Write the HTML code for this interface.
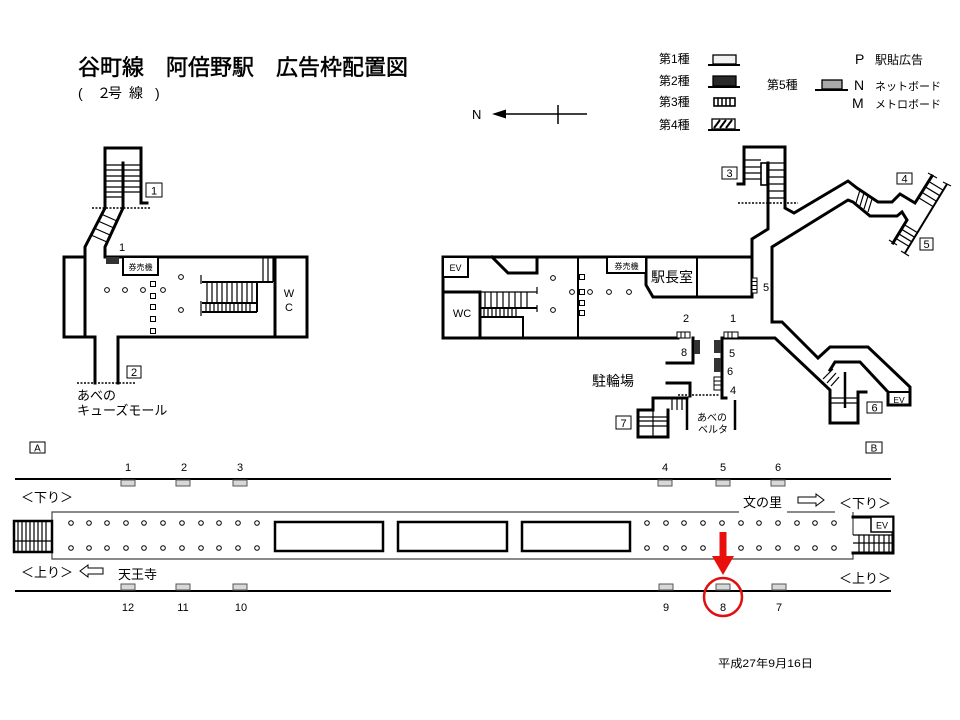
<!DOCTYPE html>
<html><head><meta charset="utf-8">
<style>
html,body{margin:0;padding:0;background:#fff;}
svg{display:block;}
text{font-family:"Liberation Sans","Noto Sans CJK JP",sans-serif;fill:#000;}
.w{fill:none;stroke:#000;stroke-width:3;stroke-linejoin:miter;stroke-linecap:square;}
.t{fill:none;stroke:#000;stroke-width:1.2;}
.m{fill:none;stroke:#000;stroke-width:2;}
.c{fill:#fff;stroke:#000;stroke-width:1;}
.d{fill:none;stroke:#000;stroke-width:1.6;stroke-dasharray:2,1.5;}
.g{fill:#d8d8d8;stroke:#555;stroke-width:1;}
</style></head><body>
<svg width="960" height="720" viewBox="0 0 960 720" xmlns="http://www.w3.org/2000/svg">
<rect width="960" height="720" fill="#fff"/>

<!-- Title -->
<text x="78" y="75" font-size="22" stroke="#000" stroke-width="0.5">谷町線　阿倍野駅　広告枠配置図</text>
<text x="78" y="98" font-size="14">(</text>
<text x="97" y="98" font-size="14">２</text>
<text x="108" y="98" font-size="14">号</text>
<text x="129" y="98" font-size="14">線</text>
<text x="155" y="98" font-size="14">)</text>

<!-- Legend -->
<text x="659" y="63" font-size="12">第1種</text>
<text x="659" y="85" font-size="12">第2種</text>
<text x="659" y="106" font-size="12">第3種</text>
<text x="659" y="129" font-size="12">第4種</text>
<rect x="713" y="55" width="23" height="9" fill="#f2f2f2" stroke="#000" stroke-width="1.3"/>
<line x1="708" y1="65" x2="740" y2="65" stroke="#000" stroke-width="2"/>
<rect x="713" y="76" width="23" height="10" fill="#2a2a2a" stroke="#000" stroke-width="1.3"/>
<line x1="708" y1="87" x2="740" y2="87" stroke="#000" stroke-width="2"/>
<rect x="714" y="98" width="21" height="8" fill="#fff" stroke="#000" stroke-width="1.6"/>
<path d="M718,98V106M722,98V106M726,98V106M730,98V106" stroke="#000" stroke-width="1.5"/>
<rect x="712" y="119" width="23" height="10" fill="#fff" stroke="#000" stroke-width="1.3"/>
<path d="M714,128L720,120M720,128L726,120M726,128L732,120" stroke="#000" stroke-width="2"/>
<line x1="708" y1="130" x2="740" y2="130" stroke="#000" stroke-width="2"/>
<text x="767" y="89" font-size="12">第5種</text>
<rect x="822" y="80" width="20" height="9" fill="#aaa" stroke="#000" stroke-width="1.3"/>
<line x1="815" y1="90" x2="848" y2="90" stroke="#000" stroke-width="2"/>
<text x="855" y="64" font-size="14">P</text>
<text x="875" y="64" font-size="12">駅貼広告</text>
<text x="854" y="90" font-size="14">N</text>
<text x="875" y="90" font-size="11">ネットボード</text>
<text x="852" y="108" font-size="14">M</text>
<text x="875" y="108" font-size="11">メトロボード</text>

<!-- North arrow -->
<text x="472" y="119" font-size="13">N</text>
<line x1="500" y1="114" x2="587" y2="114" stroke="#000" stroke-width="1.5"/>
<polygon points="492,114 506,109.5 506,118.5" fill="#000"/>
<line x1="558" y1="105" x2="558" y2="124" stroke="#000" stroke-width="1.5"/>

<!-- ===== Left concourse ===== -->
<path class="w" d="M147,203 L141,203 L141,148 L105,148 L105,208 L85,247 L85,257 L64,257 L64,337 L95,337 L95,383"/>
<path class="w" d="M123,163 L123,208 L105,247 L105,257 L307,257 L307,337 L118,337 L118,383"/>
<line x1="85" y1="257" x2="85" y2="337" stroke="#000" stroke-width="3"/>
<path class="t" d="M105,165H141M105,170H141M105,176H141M105,181H141M105,187H141M105,192H141M105,197H123"/>
<path class="t" d="M101,214L117,221M98,221L114,228M94,228L110,235M91,235L107,242"/>
<line class="d" x1="92" y1="208" x2="150" y2="208"/>
<rect x="146" y="183" width="16" height="14" fill="#fff" stroke="#000" stroke-width="1"/>
<text x="154" y="194.5" font-size="11" text-anchor="middle">1</text>
<text x="122" y="251" font-size="11" text-anchor="middle" fill="#333">1</text>
<rect x="106" y="257" width="13" height="7" fill="#333"/>
<rect x="123" y="257" width="35" height="18" fill="#fff" stroke="#000" stroke-width="2"/>
<text x="140.5" y="270" font-size="8" text-anchor="middle">券売機</text>
<!-- circles -->
<g class="c">
<circle cx="107" cy="290" r="2.4"/><circle cx="125" cy="290" r="2.4"/><circle cx="143" cy="290" r="2.4"/><circle cx="163" cy="290" r="2.4"/>
<circle cx="181" cy="277" r="2.4"/><circle cx="181" cy="310" r="2.4"/>
</g>
<g fill="#fff" stroke="#000" stroke-width="1">
<rect x="150.5" y="281.5" width="5" height="5"/><rect x="150.5" y="293.5" width="5" height="5"/><rect x="150.5" y="304.5" width="5" height="5"/><rect x="150.5" y="316.5" width="5" height="5"/><rect x="150.5" y="328.5" width="5" height="5"/>
</g>
<!-- stairs in left concourse -->
<line x1="275" y1="257" x2="275" y2="337" stroke="#000" stroke-width="3"/>
<text x="289" y="297" font-size="11" text-anchor="middle">W</text>
<text x="289" y="311" font-size="11" text-anchor="middle">C</text>
<path class="t" d="M263,257V282M268,257V282M273,257V282"/>
<path class="m" d="M202,282H273M257,282V312M202,312H257M202,303H257"/>
<path class="t" d="M201,275V284M201,301V316"/>
<path class="t" d="M207,282V303M212,282V303M217,282V303M222,282V303M227,282V303M232,282V303M237,282V303M242,282V303M247,282V303M252,282V303"/>
<path class="t" d="M206,303V312M210,303V312M214,303V312M218,303V312M222,303V312M226,303V312M230,303V312M234,303V312M238,303V312M242,303V312M246,303V312M250,303V312"/>
<line class="d" x1="77" y1="383" x2="135" y2="383"/>
<rect x="127" y="366" width="14" height="12" fill="#fff" stroke="#000" stroke-width="1"/>
<text x="134" y="376" font-size="11" text-anchor="middle">2</text>
<text x="77" y="400" font-size="13">あべの</text>
<text x="77" y="415" font-size="13">キューズモール</text>

<!-- ===== Right concourse ===== -->
<path class="w" d="M752,257 L443,257 L443,338 L678,338"/>
<path class="w" d="M738,184 L744,184 L744,147 L785,147 L785,208 L794,213 L848,181 L857,188 L878,202 L892,202 L900,194 L915,203 L932,176"/>
<path class="w" d="M768,163 L768,229 L752,239 L752,297 L653,297 L646,285 L646,257"/>
<rect x="761" y="163" width="6" height="22" fill="#fff" stroke="#000" stroke-width="1.6"/>
<path class="t" d="M744,160H761M744,167H761M744,173H761M744,179H761M768,163H785M768,170H785M768,177H785M768,184H785M768,191H785M768,198H785"/>
<line class="d" x1="738" y1="203" x2="798" y2="203"/>
<rect x="722" y="167" width="15" height="12" fill="#fff" stroke="#000" stroke-width="1"/>
<text x="729.5" y="177" font-size="11" text-anchor="middle">3</text>
<line x1="697" y1="257" x2="697" y2="297" stroke="#000" stroke-width="2"/>
<text x="672" y="282" font-size="14" text-anchor="middle">駅長室</text>
<rect x="752" y="278" width="5" height="15" fill="#fff" stroke="#000" stroke-width="1"/>
<path d="M752,281.5H757M752,285.5H757M752,289.5H757" stroke="#000" stroke-width="1"/>
<text x="763" y="291" font-size="11" fill="#333">5</text>

<!-- passage to exits 4/5 -->
<path class="w" d="M772,322 L772,247 L848,200 L853,202 L870,216 L897,216 L902,212 L907,220 L893,243"/>
<path class="t" d="M860,190L856,203M864,193L860,206M868,196L864,209M872,199L868,212"/>
<line x1="905" y1="253" x2="947" y2="184" stroke="#000" stroke-width="2"/>
<path class="t" d="M928,173L937,178M943,182L951,186M889,240L897,245M901,251L909,256"/>
<path class="t" d="M918.4,197.6L933.2,206.6M921.8,192.2L936.5,201.2M925.2,186.8L939.9,195.7M928.6,181.4L943.2,190.3"/>
<path class="t" d="M904.2,224.6L917.4,232.6M901.4,229.2L914.6,237.2M898.6,233.8L911.8,241.8M895.8,238.4L909,246.4"/>
<rect x="897" y="173" width="15" height="11" fill="#fff" stroke="#000" stroke-width="1"/>
<text x="904.5" y="182.5" font-size="11" text-anchor="middle">4</text>
<rect x="920" y="238" width="13" height="12" fill="#fff" stroke="#000" stroke-width="1"/>
<text x="926.5" y="248" font-size="11" text-anchor="middle">5</text>

<!-- passage to exit 6 -->
<path class="w" d="M772,322 L782,322 L818,358 L830,347 L868,347 L910,387 L910,405 L888,405 L888,392 L860,362 L835,362 L830,370"/>
<path class="w" d="M722,338 L775,338 L830,390 L830,423 L858,423 L858,392 L866,392"/>
<line x1="888" y1="392" x2="910" y2="392" stroke="#000" stroke-width="2"/>
<text x="899" y="403" font-size="8.5" text-anchor="middle">EV</text>
<line x1="845" y1="372" x2="845" y2="408" stroke="#000" stroke-width="2.5"/>
<path class="t" d="M830,398H858M830,403H858M823,379L833,369M827,383L836,373M831,386L839,377"/>
<rect x="867" y="402" width="15" height="11" fill="#fff" stroke="#000" stroke-width="1"/>
<text x="874.5" y="411.5" font-size="11" text-anchor="middle">6</text>

<!-- right concourse interior -->
<rect x="443" y="257" width="25" height="20" fill="#fff" stroke="#000" stroke-width="2"/>
<text x="455.5" y="271" font-size="9" text-anchor="middle">EV</text>
<path class="w" d="M443,292 H480 V338"/>
<text x="462" y="317" font-size="11" text-anchor="middle">WC</text>
<path class="m" d="M480,308H537M480,317H523V338"/>
<path class="t" d="M480,292H537M537,287V294M537,305V312"/>
<path class="t" d="M485,292V308M491,292V308M497,292V308M503,292V308M509,292V308M515,292V308M521,292V308M527,292V308"/>
<path class="t" d="M484,308V317M488,308V317M492,308V317M496,308V317M500,308V317M504,308V317M508,308V317M512,308V317M516,308V317"/>
<path class="w" d="M492,257 L508,273 L537,273 L537,257"/>
<line x1="578" y1="257" x2="578" y2="338" stroke="#000" stroke-width="2"/>
<rect x="607" y="257" width="39" height="16" fill="#fff" stroke="#000" stroke-width="2"/>
<text x="626.5" y="269" font-size="8" text-anchor="middle">券売機</text>
<g class="c">
<circle cx="553" cy="278" r="2.4"/><circle cx="553" cy="310" r="2.4"/>
<circle cx="572" cy="292" r="2.4"/><circle cx="590" cy="292" r="2.4"/><circle cx="609" cy="292" r="2.4"/><circle cx="629" cy="292" r="2.4"/>
</g>
<g fill="#fff" stroke="#000" stroke-width="1">
<rect x="579.5" y="274.5" width="5" height="5"/><rect x="579.5" y="289.5" width="5" height="5"/><rect x="579.5" y="300.5" width="5" height="5"/><rect x="579.5" y="310.5" width="5" height="5"/>
</g>

<!-- 駐輪場 area -->
<text x="686" y="322" font-size="11" text-anchor="middle">2</text>
<text x="733" y="322" font-size="11" text-anchor="middle">1</text>
<rect x="677" y="332" width="13" height="6" fill="#fff" stroke="#000" stroke-width="1"/>
<path d="M681,332V338M685,332V338" stroke="#000" stroke-width="1"/>
<rect x="724" y="332" width="14" height="6" fill="#fff" stroke="#000" stroke-width="1"/>
<path d="M728,332V338M732,332V338" stroke="#000" stroke-width="1"/>
<path class="w" d="M693,338 L693,363 L667,363"/>
<rect x="694" y="340" width="6" height="14" fill="#333"/>
<text x="684" y="356" font-size="11" text-anchor="middle" fill="#555">8</text>
<path class="w" d="M722,338 L722,398 L726,398"/>
<rect x="714" y="340" width="7" height="13" fill="#333"/>
<rect x="714" y="358" width="7" height="14" fill="#333"/>
<rect x="714" y="377" width="7" height="13" fill="#fff" stroke="#000" stroke-width="1"/>
<path d="M714,381H721M714,385H721" stroke="#000" stroke-width="1"/>
<text x="732" y="357" font-size="11" text-anchor="middle" fill="#555">5</text>
<text x="730" y="375" font-size="11" text-anchor="middle" fill="#555">6</text>
<text x="733" y="394" font-size="11" text-anchor="middle" fill="#555">4</text>
<line class="d" x1="678" y1="395" x2="720" y2="395"/>
<line x1="735" y1="400" x2="735" y2="430" stroke="#000" stroke-width="2.5"/>
<text x="592" y="386" font-size="14">駐輪場</text>
<path class="w" d="M667,383 L690,383 L690,396"/>
<path class="w" d="M687,398 L653,398 L653,410 L638,410"/>
<path class="w" d="M638,410 L638,437 L668,437 L668,410"/>
<line x1="687" y1="398" x2="687" y2="430" stroke="#000" stroke-width="2.5"/>
<path class="t" d="M638,417H668M638,421H668M638,426H668M653,410V437M672,398V410M677,398V410M682,398V410"/>
<rect x="616" y="416" width="15" height="13" fill="#fff" stroke="#000" stroke-width="1"/>
<text x="623.5" y="427" font-size="11" text-anchor="middle">7</text>
<text x="697" y="421" font-size="10">あべの</text>
<text x="698" y="433" font-size="10">ベルタ</text>

<!-- ===== Platform ===== -->
<rect x="30" y="442" width="15" height="11" fill="#fff" stroke="#000" stroke-width="1"/>
<text x="37.5" y="451.5" font-size="10" text-anchor="middle">A</text>
<rect x="866" y="442" width="16" height="11" fill="#fff" stroke="#000" stroke-width="1"/>
<text x="874" y="451.5" font-size="10" text-anchor="middle">B</text>

<line x1="15" y1="479" x2="891" y2="479" stroke="#000" stroke-width="2"/>
<line x1="15" y1="591" x2="891" y2="591" stroke="#000" stroke-width="2"/>
<g class="g">
<rect x="121" y="480" width="14" height="6"/><rect x="176" y="480" width="14" height="6"/><rect x="233" y="480" width="14" height="6"/>
<rect x="658" y="480" width="14" height="6"/><rect x="716" y="480" width="14" height="6"/><rect x="771" y="480" width="14" height="6"/>
<rect x="121" y="584" width="14" height="6"/><rect x="176" y="584" width="14" height="6"/><rect x="233" y="584" width="14" height="6"/>
<rect x="659" y="584" width="14" height="6"/><rect x="716" y="584" width="14" height="6"/><rect x="772" y="584" width="14" height="6"/>
</g>
<g font-size="11" text-anchor="middle">
<text x="128" y="471">1</text><text x="184" y="471">2</text><text x="240" y="471">3</text>
<text x="665" y="471">4</text><text x="723" y="471">5</text><text x="778" y="471">6</text>
<text x="128" y="611">12</text><text x="183" y="611">11</text><text x="241" y="611">10</text>
<text x="666" y="611">9</text><text x="723" y="611">8</text><text x="779" y="611">7</text>
</g>
<text x="21" y="502" font-size="13">＜下り＞</text>
<text x="21" y="577" font-size="13">＜上り＞</text>
<text x="839" y="508" font-size="13">＜下り＞</text>
<text x="839" y="583" font-size="13">＜上り＞</text>
<text x="118" y="579" font-size="13">天王寺</text>
<text x="743" y="507" font-size="13">文の里</text>
<polygon points="80,571 88,565 88,568 103,568 103,574 88,574 88,577" fill="#fff" stroke="#000" stroke-width="1"/>
<polygon points="824,500 816,494 816,497 798,497 798,503 816,503 816,506" fill="#fff" stroke="#000" stroke-width="1"/>

<!-- platform edges -->
<path d="M52,521 V512 H739 M787,512 H835 M853,512 V535 M52,552 V559 H853 V553" fill="none" stroke="#444" stroke-width="1.2"/>
<!-- left stairs -->
<rect x="14" y="521" width="38" height="31" fill="#fff" stroke="#000" stroke-width="2.5"/>
<path class="t" d="M18,521V552M22,521V552M26,521V552M30,521V552M34,521V552M38,521V552M42,521V552M46,521V552M14,541H52"/>
<!-- right stairs -->
<path class="w" d="M853,517 H893 V553 H853"/>
<rect x="871" y="517" width="22" height="15" fill="#fff" stroke="#000" stroke-width="1.5"/>
<text x="882" y="528.5" font-size="9" text-anchor="middle">EV</text>
<path class="t" d="M853,535H893M853,543H893M859,535V553M864,535V553M869,535V553M874,535V553M879,535V553M884,535V553M889,535V553"/>

<!-- pillars -->
<g class="c">
<circle cx="71" cy="523" r="2.3"/><circle cx="89" cy="523" r="2.3"/><circle cx="107" cy="523" r="2.3"/><circle cx="126" cy="523" r="2.3"/><circle cx="144" cy="523" r="2.3"/><circle cx="163" cy="523" r="2.3"/><circle cx="182" cy="523" r="2.3"/><circle cx="201" cy="523" r="2.3"/><circle cx="219" cy="523" r="2.3"/><circle cx="238" cy="523" r="2.3"/><circle cx="257" cy="523" r="2.3"/>
<circle cx="71" cy="548" r="2.3"/><circle cx="89" cy="548" r="2.3"/><circle cx="107" cy="548" r="2.3"/><circle cx="126" cy="548" r="2.3"/><circle cx="144" cy="548" r="2.3"/><circle cx="163" cy="548" r="2.3"/><circle cx="182" cy="548" r="2.3"/><circle cx="201" cy="548" r="2.3"/><circle cx="219" cy="548" r="2.3"/><circle cx="238" cy="548" r="2.3"/><circle cx="257" cy="548" r="2.3"/>
<circle cx="647" cy="523" r="2.3"/><circle cx="666" cy="523" r="2.3"/><circle cx="684" cy="523" r="2.3"/><circle cx="703" cy="523" r="2.3"/><circle cx="722" cy="523" r="2.3"/><circle cx="741" cy="523" r="2.3"/><circle cx="759" cy="523" r="2.3"/><circle cx="778" cy="523" r="2.3"/><circle cx="797" cy="523" r="2.3"/><circle cx="815" cy="523" r="2.3"/><circle cx="834" cy="523" r="2.3"/>
<circle cx="647" cy="548" r="2.3"/><circle cx="666" cy="548" r="2.3"/><circle cx="684" cy="548" r="2.3"/><circle cx="703" cy="548" r="2.3"/><circle cx="741" cy="548" r="2.3"/><circle cx="759" cy="548" r="2.3"/><circle cx="778" cy="548" r="2.3"/><circle cx="797" cy="548" r="2.3"/><circle cx="815" cy="548" r="2.3"/><circle cx="834" cy="548" r="2.3"/>
</g>
<!-- central rectangles -->
<g fill="#fff" stroke="#000" stroke-width="2.5">
<rect x="275" y="522" width="108" height="29"/>
<rect x="398" y="522" width="109" height="29"/>
<rect x="522" y="522" width="108" height="29"/>
</g>

<!-- red marker -->
<rect x="719.5" y="532" width="7" height="26" fill="#e8100c"/>
<polygon points="712,556 734,556 723,575" fill="#e8100c"/>
<circle cx="723" cy="597" r="19" fill="none" stroke="#e01010" stroke-width="2.5"/>

<!-- date -->
<text x="718" y="667" font-size="11" textLength="95" lengthAdjust="spacingAndGlyphs">平成27年9月16日</text>
</svg>
</body></html>
